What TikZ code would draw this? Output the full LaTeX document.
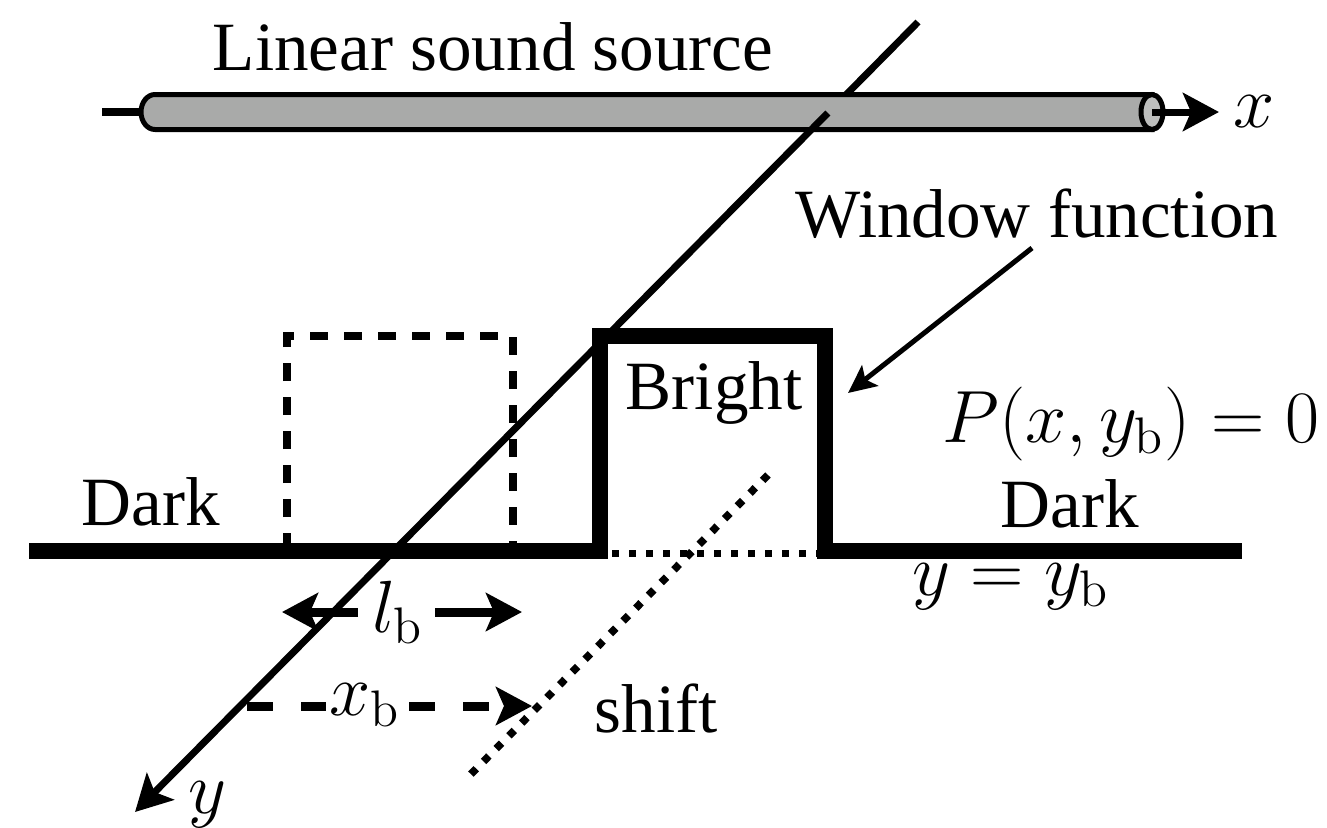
\documentclass[tikz,border=0pt]{standalone}
\usepackage[no-math]{fontspec}
\setmainfont{Liberation Serif}
\newfontfamily\timesfam{Liberation Serif}
\usepackage{graphicx}
\usetikzlibrary{arrows.meta}
\definecolor{cylgray}{HTML}{A9AAA9}
\definecolor{capgray}{HTML}{BDBEBD}
\newcommand{\bigmath}[1]{\scalebox{1.07}{$#1$}}
\begin{document}
\begin{tikzpicture}[x=0.25pt,y=-0.25pt,
  txt/.style={font=\timesfam\fontsize{17.28}{20}\selectfont, inner sep=0pt, anchor=base},
  axline/.style={line width=1.75pt},
  bigtip/.style={-{Stealth[length=9pt,width=9.5pt,inset=2pt]}},
  smalltip/.style={-{Stealth[length=7pt,width=6.5pt,inset=1.5pt]}},
  cylbody/.style={line width=1.25pt, fill=cylgray, draw=black},
  cylcap/.style={line width=1.25pt, fill=capgray, draw=black},
  ground/.style={line width=4pt, miter limit=10},
  dashbox/.style={line width=2pt, dash pattern=on 4.5pt off 4pt},
  dotline/.style={line width=1.75pt, dash pattern=on 1.75pt off 2.5pt},
  diagdot/.style={line width=1.9pt, dash pattern=on 1.9pt off 2.6pt}
]
\useasboundingbox (0,0) rectangle (1327,827);

% coordinates
\coordinate (ytop) at (918,22);
\coordinate (yhid) at (832,109);
\coordinate (yvis) at (827.8,113);
\coordinate (ytip) at (135,812);
\coordinate (stubL) at (102,112);
\coordinate (stubR) at (142,112);
\coordinate (xo) at (1152,112);
\coordinate (xtip) at (1219,112);
\coordinate (g0) at (29,551);
\coordinate (b0) at (600,551);
\coordinate (b1) at (600,336);
\coordinate (b2) at (825,336);
\coordinate (b3) at (825,551);
\coordinate (g1) at (1242,551);
\coordinate (d0) at (287,551);
\coordinate (d1) at (287,336);
\coordinate (d2) at (513,336);
\coordinate (d3) at (513,551);
\coordinate (dl0) at (612,553);
\coordinate (dl1) at (817,553);
\coordinate (s0) at (768,475);
\coordinate (s1) at (465,780);
\coordinate (wf0) at (1032,248);
\coordinate (wf1) at (848,393);
\coordinate (lbLs) at (358,612);
\coordinate (lbLt) at (282,612);
\coordinate (lbRs) at (435,612);
\coordinate (lbRt) at (522,612);
\coordinate (xb0) at (247,706);
\coordinate (xb1) at (532,706);

% y axis, upper part (behind the source)
\draw[axline] (ytop) -- (yhid);

% linear sound source
\draw[line width=2pt] (stubL) -- (stubR);
\filldraw[cylbody] (155,94.5) -- (1152,94.5) -- (1152,129.5) -- (155,129.5)
  arc[start angle=270, end angle=90, x radius=3.5pt, y radius=4.375pt] -- cycle;
\filldraw[cylcap] (1152,112) ellipse[x radius=2.75pt, y radius=4.375pt];
\draw[line width=1.75pt, bigtip] (xo) -- (xtip);

% ground and window
\draw[ground] (g0) -- (b0) -- (b1) -- (b2) -- (b3) -- (g1);
\draw[dashbox] (d0) -- (d1) -- (d2) -- (d3);
\draw[dotline] (dl0) -- (dl1);
\draw[diagdot] (s0) -- (s1);

% y axis, lower part
\draw[axline, bigtip] (yvis) -- (ytip);

% window function arrow
\draw[line width=1.25pt, smalltip] (wf0) -- (wf1);

% l_b arrows
\draw[line width=2.25pt, bigtip] (lbLs) -- (lbLt);
\draw[line width=2.25pt, bigtip] (lbRs) -- (lbRt);

% x_b dashed arrow
\draw[line width=2.25pt, dash pattern=on 6.5pt off 7pt, bigtip] (xb0) -- (xb1);

% labels
\node[txt] (lss) at (493,70) {Linear sound source};
\node[txt] (xl) at (1254,127) {\bigmath{x}};
\node[txt] (wfl) at (1037,237) {Window function};
\node[txt] (br) at (714,409) {Bright};
\node[txt] (dk1) at (151,525) {Dark};
\node[txt] (dk2) at (1070,527) {Dark};
\node[txt] (pe) at (1131,442) {\bigmath{P(x,y_{\mathrm{b}})=0}};
\node[txt] (yyb) at (1011,595) {\bigmath{y=y_{\mathrm{b}}}};
\node[txt] (lb) at (398,632) {\bigmath{l_{\mathrm{b}}}};
\node[txt, fill=white, inner sep=0.75pt] (xb) at (365,715) {\bigmath{x_{\mathrm{b}}}};
\node[txt] (sh) at (656,732) {shift};
\node[txt] (yl) at (207,813) {\bigmath{y}};
\end{tikzpicture}
\end{document}
